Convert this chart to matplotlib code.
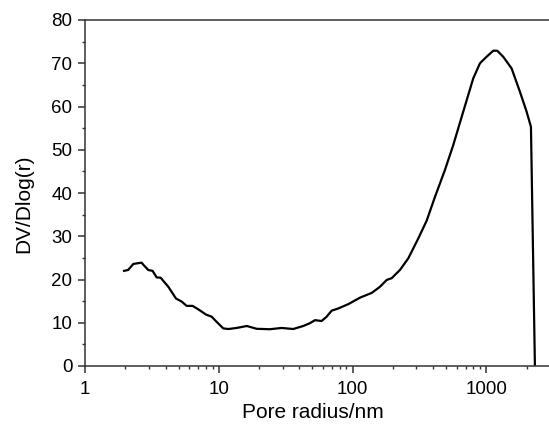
import numpy as np
import matplotlib
matplotlib.use('Agg')
import matplotlib.pyplot as plt
from matplotlib.ticker import FixedLocator, LogLocator, MultipleLocator, FuncFormatter

plt.rcParams['font.family'] = ['Liberation Sans', 'DejaVu Sans']

# pore size distribution
radius = [1.96, 2.1, 2.3, 2.65, 2.73, 2.97, 3.2, 3.43, 3.68, 4.2, 4.79, 5.28, 5.75,
          6.37, 7.03, 8.02, 8.85, 9.64, 10.8, 11.8, 13.6, 16.2, 19.2, 24.1, 29.5,
          36, 42.8, 48, 52.4, 58.7, 64, 69.8, 78.2, 92.9, 113.6, 139, 160, 180,
          196, 226, 261, 310, 358, 413, 490, 566, 654, 733, 798, 896, 1004, 1127,
          1206, 1337, 1545, 1783, 2000, 2155, 2307]
dv = [22.0, 22.2, 23.6, 23.9, 23.4, 22.2, 22.0, 20.5, 20.4, 18.3, 15.6, 14.9, 13.9,
      13.9, 13.1, 11.9, 11.4, 10.2, 8.7, 8.55, 8.8, 9.25, 8.6, 8.5, 8.8,
      8.55, 9.25, 9.9, 10.6, 10.4, 11.4, 12.8, 13.3, 14.3, 15.8, 16.9, 18.3, 19.9,
      20.3, 22.2, 24.9, 29.5, 33.6, 39.1, 45.3, 51.1, 57.6, 62.7, 66.5, 70.0, 71.5, 72.9,
      72.9, 71.5, 68.8, 63.4, 58.8, 55.3, 0.0]

fig = plt.figure(figsize=[5.49, 4.25], dpi=100)
ax = fig.add_axes([85/549, 1-366/425, 1-85/549, 346/425])

ax.plot(radius, dv, '-', c='k', lw=1.6)

ax.set_xscale('log')
ax.set_xlim([1, 2940])
ax.set_ylim([0, 80])

ax.xaxis.set_major_locator(FixedLocator([1, 10, 100, 1000]))
ax.xaxis.set_minor_locator(LogLocator(base=10, subs=np.arange(2, 10)))
ax.xaxis.set_major_formatter(FuncFormatter(lambda v, p: '%g' % v))
ax.yaxis.set_major_locator(MultipleLocator(10))
ax.yaxis.set_minor_locator(MultipleLocator(5))

for s in ['left', 'top', 'bottom']:
    ax.spines[s].set_linewidth(1.1)
    ax.spines[s].set_color('#333333')
ax.spines['right'].set_visible(False)

ax.tick_params(which='major', direction='out', length=5, width=1.1, color='#333333',
               labelsize=13.5, pad=4)
ax.tick_params(axis='x', which='major', pad=6)
ax.tick_params(which='minor', direction='out', length=2.5, width=1.0, color='#333333')

ax.set_xlabel('Pore radius/nm', fontsize=15)
ax.set_ylabel('DV/Dlog(r)', fontsize=15)
ax.xaxis.set_label_coords(0.491, -0.108)
ax.yaxis.set_label_coords(-0.112, 0.468)

plt.savefig('out.png', dpi=100)
plt.close()
